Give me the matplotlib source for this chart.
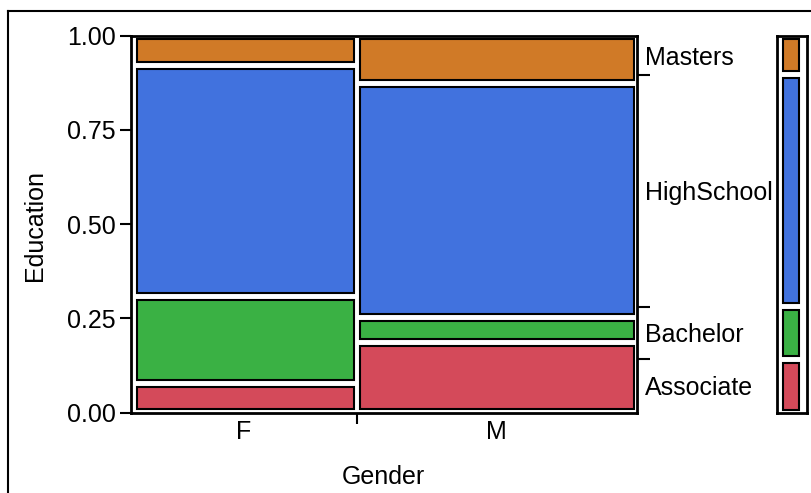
import matplotlib
matplotlib.use('Agg')
import matplotlib.pyplot as plt
from matplotlib.patches import Rectangle
from matplotlib.lines import Line2D

plt.rcParams['font.family'] = ['Liberation Sans', 'DejaVu Sans']

# 数据：各性别占比 + 各性别内部学历占比（从下往上）
genders = ['F', 'M']
gender_share = [0.446, 0.554]
levels = ['Associate', 'Bachelor', 'HighSchool', 'Masters']
f_props = [0.077, 0.231, 0.614, 0.078]
m_props = [0.187, 0.065, 0.621, 0.127]
# 右侧边际条（直接从图上读）
marg = [0.142, 0.139, 0.615, 0.104]
colors = ['#D44A5A', '#3AB144', '#4172DE', '#D07A27']

FW, FH, DPI = 811, 493, 100
FS = 18
LW = 1.5

fig = plt.figure(figsize=(FW / DPI, FH / DPI), dpi=DPI)


def px_box(x0, y0, x1, y1):
    # 像素坐标(左上原点) -> figure 比例
    return [x0 / FW, 1 - y1 / FH, (x1 - x0) / FW, (y1 - y0) / FH]


# 主马赛克图
AX_L, AX_T, AX_R, AX_B = 131, 35.7, 636.7, 412.7
ax = fig.add_axes(px_box(AX_L, AX_T, AX_R, AX_B))
ax.set_xlim(0, 1); ax.set_ylim(0, 1)
W, H = AX_R - AX_L, AX_B - AX_T
gx, gy = 3.0 / W, 3.5 / H        # 格子之间的白缝（半宽）

props = [f_props, m_props]
x0 = 0.0
for gi, share in enumerate(gender_share):
    y0 = 0.0
    for li, p in enumerate(props[gi]):
        left = x0 + (gx * 2 if gi == 0 else gx)
        right = x0 + share - gx
        ax.add_patch(Rectangle((left, y0 + gy), right - left, p - 2 * gy,
                               facecolor=colors[li], edgecolor='black', lw=LW))
        y0 += p
    x0 += share

for s in ax.spines.values():
    s.set_linewidth(2)

ax.set_yticks([0, 0.25, 0.5, 0.75, 1.0])
ax.set_yticklabels(['0.00', '0.25', '0.50', '0.75', '1.00'])
ax.tick_params(axis='y', length=8, width=1.5, pad=3, labelsize=FS)

centers, cum = [], 0
for s in gender_share:
    centers.append(cum + s / 2); cum += s
ax.set_xticks([gender_share[0]])
ax.set_xticklabels([''])
ax.set_xticks(centers, minor=True)
ax.set_xticklabels(genders, minor=True)
ax.tick_params(axis='x', which='major', length=8, width=1.5)
ax.tick_params(axis='x', which='minor', length=0, pad=5, labelsize=FS)

# 右侧：边际分布刻度 + 标签
bounds, mids, c = [], [], 0
for v in marg:
    mids.append(c + v / 2); c += v; bounds.append(c)
ax2 = ax.twinx()
ax2.set_ylim(0, 1)
ax2.set_yticks(bounds[:-1])
ax2.set_yticklabels([''] * 3)
ax2.set_yticks(mids, minor=True)
ax2.set_yticklabels(levels, minor=True)
ax2.tick_params(axis='y', which='major', length=9, width=1.5)
ax2.tick_params(axis='y', which='minor', length=0, pad=6, labelsize=FS)
for s in ax2.spines.values():
    s.set_visible(False)

# 最右边的边际条
axm = fig.add_axes(px_box(776.7, 35.7, 806.7, 413))
axm.set_xlim(0, 1); axm.set_ylim(0, 1)
axm.set_xticks([]); axm.set_yticks([])
for s in axm.spines.values():
    s.set_linewidth(2)
mh = 413 - 35.7
y0 = 0
for li, v in enumerate(marg):
    axm.add_patch(Rectangle((0.22, y0 + 3.5 / mh), 0.52, v - 7 / mh,
                            facecolor=colors[li], edgecolor='black', lw=LW))
    y0 += v

fig.text(35 / FW, 1 - 225 / FH, 'Education', rotation=90, ha='center', va='center', fontsize=FS)
fig.text(383 / FW, 1 - 477 / FH, 'Gender', ha='center', va='center', fontsize=FS)

# 外框（图片只截到左上两条边）
fig.add_artist(Line2D([8 / FW, 1], [1 - 11 / FH, 1 - 11 / FH], color='black', lw=1.5,
                      transform=fig.transFigure))
fig.add_artist(Line2D([8 / FW, 8 / FW], [0, 1 - 11 / FH], color='black', lw=1.5,
                      transform=fig.transFigure))

plt.savefig('out.png', dpi=DPI)
plt.close()
